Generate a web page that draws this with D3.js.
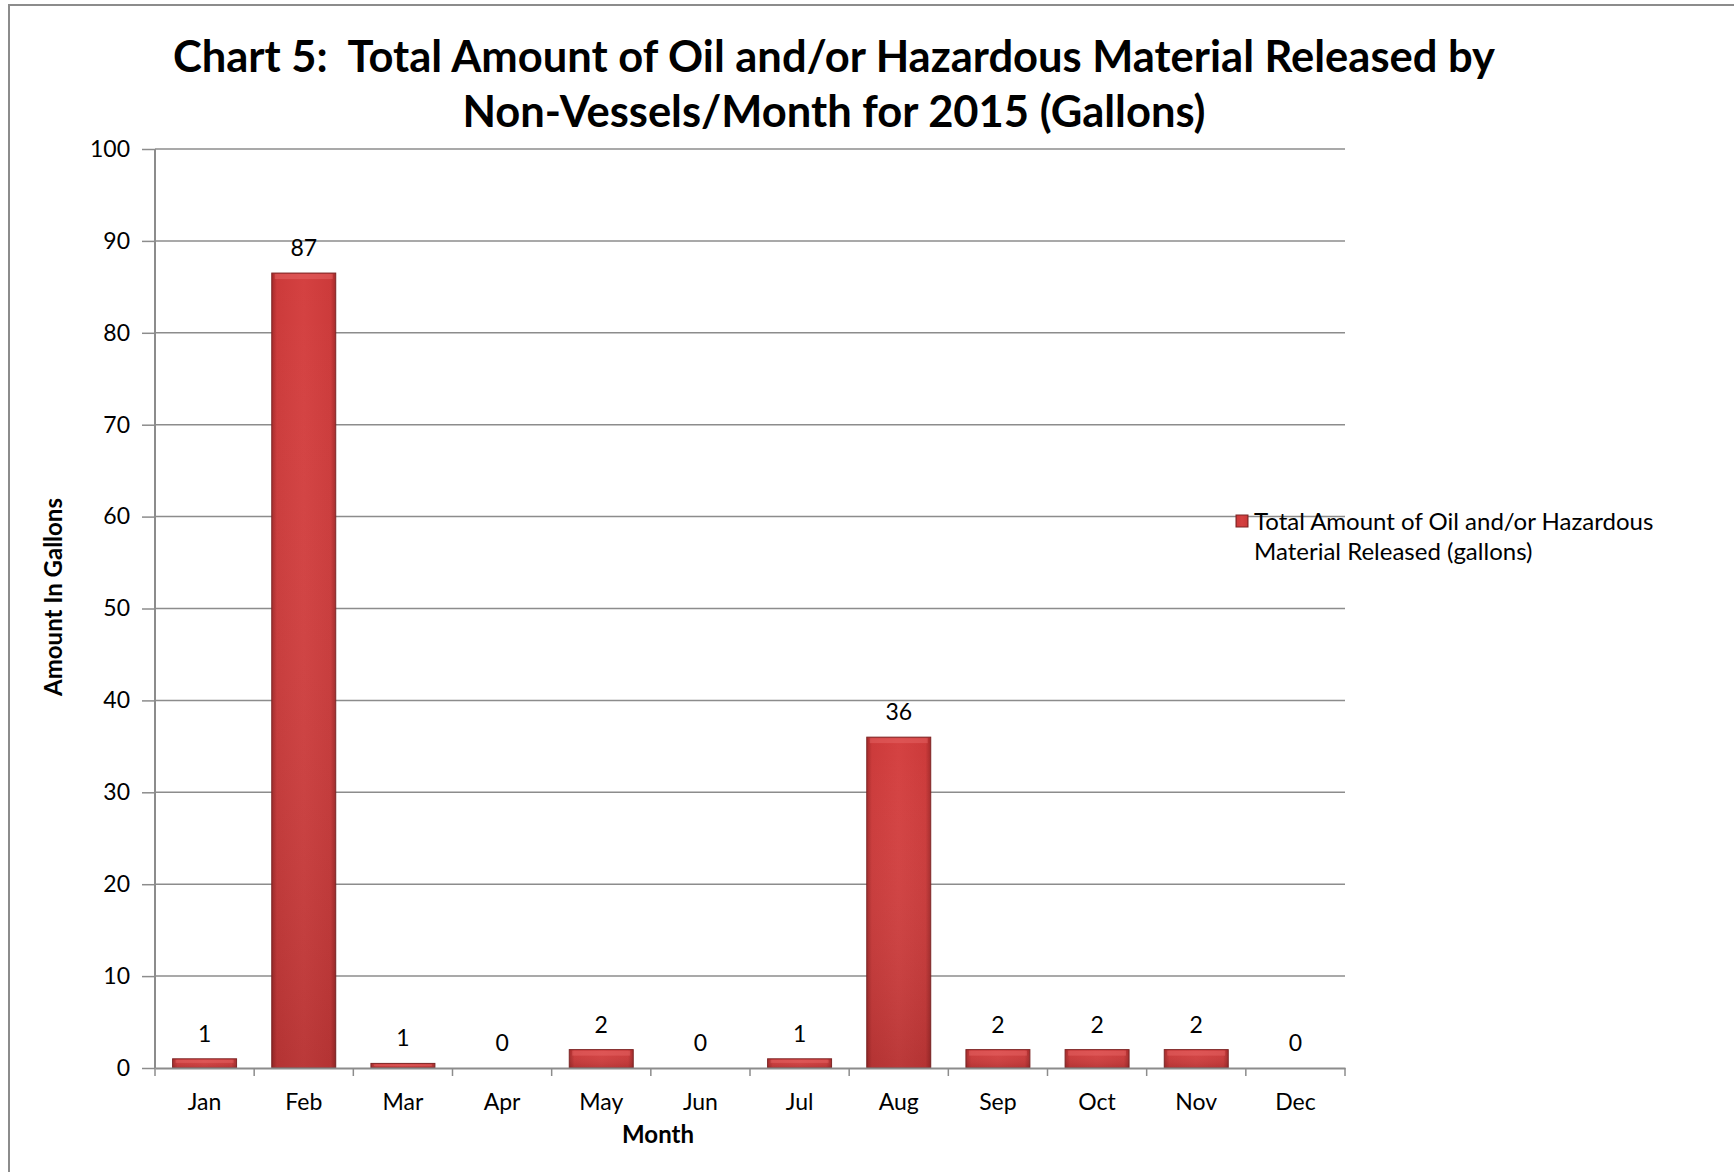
<!DOCTYPE html>
<html>
<head>
<meta charset="utf-8">
<script src="https://cdn.jsdelivr.net/npm/d3@7"></script>
<style>
  body { margin: 0; background: #fff; }
  text { font-family: Lato, "Open Sans", sans-serif; fill: #000; white-space: pre; }
</style>
</head>
<body>
<div id="chart"></div>
<script>
var width = 1734;
var height = 1172;

// data
var months = ["Jan", "Feb", "Mar", "Apr", "May", "Jun", "Jul", "Aug", "Sep", "Oct", "Nov", "Dec"];
var gallons = [1, 86.5, 0.5, 0, 2, 0, 1, 36, 2, 2, 2, 0];
var yTicks = [0, 10, 20, 30, 40, 50, 60, 70, 80, 90, 100];
var titleLines = ["Chart 5:  Total Amount of Oil and/or Hazardous Material Released by",
                  "Non-Vessels/Month for 2015 (Gallons)"];
var seriesName = ["Total Amount of Oil and/or Hazardous", "Material Released (gallons)"];

var margin = {top: 149, right: 389, bottom: 104, left: 155},
    iwidth = width - margin.left - margin.right,
    iheight = height - margin.top - margin.bottom;

var svg = d3.select("#chart")
    .append("svg")
    .attr("width", width)
    .attr("height", height);

// outer frame (left and top edges visible)
svg.append("path")
    .attr("d", "M9," + height + " V5 H" + width)
    .attr("fill", "none")
    .attr("stroke", "#8c8c8c")
    .attr("stroke-width", 2);

var defs = svg.append("defs");
var side = defs.append("linearGradient").attr("id", "barSide")
    .attr("x1", 0).attr("x2", 1).attr("y1", 0).attr("y2", 0);
side.append("stop").attr("offset", "0%").attr("stop-color", "#a52a2a");
side.append("stop").attr("offset", "8%").attr("stop-color", "#cc3a3a");
side.append("stop").attr("offset", "50%").attr("stop-color", "#d44141");
side.append("stop").attr("offset", "92%").attr("stop-color", "#cc3a3a");
side.append("stop").attr("offset", "100%").attr("stop-color", "#a52a2a");

var shade = defs.append("linearGradient").attr("id", "barShade")
    .attr("x1", 0).attr("x2", 0).attr("y1", 0).attr("y2", 1);
shade.append("stop").attr("offset", "0%").attr("stop-color", "#fff").attr("stop-opacity", 0.0);
shade.append("stop").attr("offset", "100%").attr("stop-color", "#000").attr("stop-opacity", 0.12);

var g = svg.append("g")
    .attr("transform", "translate(" + margin.left + "," + margin.top + ")");

var x = d3.scaleBand().domain(months).range([0, iwidth]).paddingInner(0.355).paddingOuter(0.1775);
var xBand = d3.scaleBand().domain(months).range([0, iwidth]);
var y = d3.scaleLinear().domain([0, 100]).range([iheight, 0]);

// gridlines
g.append("g")
    .selectAll("line")
    .data(yTicks.slice(1))
    .join("line")
    .attr("x1", 0)
    .attr("x2", iwidth)
    .attr("y1", function(d) { return y(d); })
    .attr("y2", function(d) { return y(d); })
    .attr("stroke", "#8c8c8c")
    .attr("stroke-width", 1.5);

// bars
var bars = g.append("g")
    .selectAll("g")
    .data(gallons)
    .join("g");

bars.append("rect")
    .attr("x", function(d, i) { return x(months[i]); })
    .attr("y", function(d) { return y(d); })
    .attr("width", x.bandwidth())
    .attr("height", function(d) { return iheight - y(d); })
    .attr("fill", "url(#barSide)")
    .attr("stroke", function(d) { return d > 0 ? "#7d2424" : "none"; })
    .attr("stroke-width", 1);

bars.append("rect")
    .attr("x", function(d, i) { return x(months[i]); })
    .attr("y", function(d) { return y(d); })
    .attr("width", x.bandwidth())
    .attr("height", function(d) { return iheight - y(d); })
    .attr("fill", "url(#barShade)");

// soft top highlight
bars.each(function(d, i) {
  if (d <= 0) return;
  d3.select(this).append("rect")
    .attr("x", x(months[i]) + 3)
    .attr("y", y(d) + 1)
    .attr("width", x.bandwidth() - 6)
    .attr("height", Math.min(5, (iheight - y(d)) / 3))
    .attr("fill", "#e86a6a")
    .attr("opacity", 0.45);
});

// data labels
g.append("g")
    .selectAll("text")
    .data(gallons)
    .join("text")
    .attr("x", function(d, i) { return x(months[i]) + x.bandwidth() / 2; })
    .attr("y", function(d) { return y(d) - 17; })
    .attr("text-anchor", "middle")
    .style("font-size", "23px")
    .text(function(d) { return Math.round(d); });

// Y axis
var yAxis = g.append("g")
    .call(d3.axisLeft(y).tickValues(yTicks).tickSize(13).tickPadding(12));
yAxis.select(".domain").attr("stroke", "#8c8c8c").attr("stroke-width", 2).attr("d", "M0," + iheight + "V0");
yAxis.selectAll(".tick line").attr("stroke", "#8c8c8c").attr("stroke-width", 1.5);
yAxis.selectAll(".tick text").style("font-size", "23px").style("font-family", "Lato, sans-serif").attr("fill", "#000");

// X axis
var xAxis = g.append("g")
    .attr("transform", "translate(0," + iheight + ")")
    .call(d3.axisBottom(xBand).tickSize(0).tickPadding(26));
xAxis.select(".domain").attr("stroke", "#8c8c8c").attr("stroke-width", 2);
xAxis.selectAll(".tick text").style("font-size", "23px").style("font-family", "Lato, sans-serif").attr("fill", "#000");

// category ticks between bands
g.append("g")
    .selectAll("line")
    .data(d3.range(months.length + 1))
    .join("line")
    .attr("x1", function(i) { return i * xBand.step(); })
    .attr("x2", function(i) { return i * xBand.step(); })
    .attr("y1", iheight)
    .attr("y2", iheight + 8)
    .attr("stroke", "#8c8c8c")
    .attr("stroke-width", 1.5);

// titles
svg.append("g")
    .selectAll("text")
    .data(titleLines)
    .join("text")
    .attr("x", 834)
    .attr("y", function(d, i) { return 72 + i * 55; })
    .attr("text-anchor", "middle")
    .style("font-size", "43.5px")
    .style("font-weight", "bold")
    .text(function(d) { return d; });

svg.append("text")
    .attr("x", 658)
    .attr("y", 1143)
    .attr("text-anchor", "middle")
    .style("font-size", "24px")
    .style("font-weight", "bold")
    .text("Month");

svg.append("text")
    .attr("transform", "translate(62,597) rotate(-90)")
    .attr("text-anchor", "middle")
    .style("font-size", "24px")
    .style("font-weight", "bold")
    .text("Amount In Gallons");

// legend
svg.append("rect")
    .attr("x", 1236)
    .attr("y", 515)
    .attr("width", 12)
    .attr("height", 12)
    .attr("fill", "url(#barSide)")
    .attr("stroke", "#7d2424")
    .attr("stroke-width", 1);

svg.append("g")
    .selectAll("text")
    .data(seriesName)
    .join("text")
    .attr("x", 1254)
    .attr("y", function(d, i) { return 530 + i * 30; })
    .style("font-size", "24px")
    .text(function(d) { return d; });
</script>
</body>
</html>
